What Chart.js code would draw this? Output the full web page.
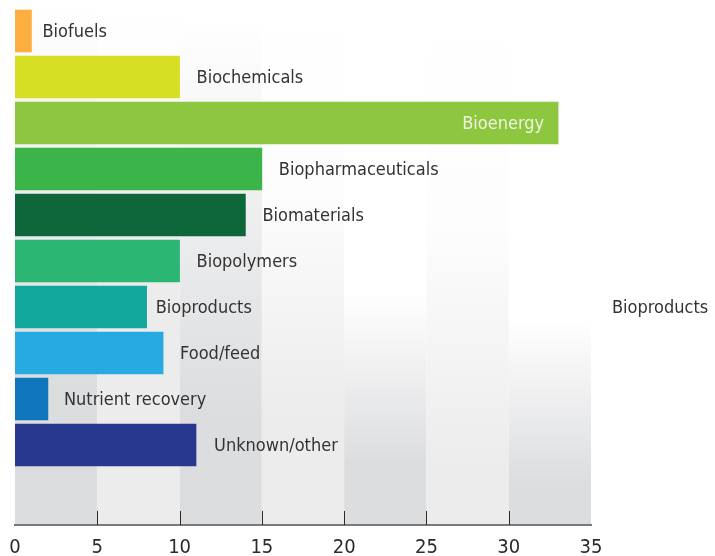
<!DOCTYPE html>
<html>
<head>
<meta charset="utf-8">
<title>Bio sectors</title>
<script src="https://cdn.jsdelivr.net/npm/chart.js@4/dist/chart.umd.min.js"></script>
<style>
  html, body { margin: 0; padding: 0; background: #ffffff; overflow: hidden; }
  canvas { display: block; }
</style>
</head>
<body>
<canvas id="grafico" width="715" height="571"></canvas>
<script>
// categorias y valores
const categorias = ["Biofuels", "Biochemicals", "Bioenergy", "Biopharmaceuticals", "Biomaterials",
  "Biopolymers", "Bioproducts", "Food/feed", "Nutrient recovery", "Unknown/other"];
const valores = [1, 10, 33, 15, 14, 10, 8, 9, 2, 11];
const colores = ["#fcaf40", "#d7df23", "#8dc63f", "#3bb54a", "#0e673a",
  "#2bb673", "#12a89d", "#27aae1", "#0f75bc", "#28388f"];
const ticksX = [0, 5, 10, 15, 20, 25, 30, 35];

const fuente = "'DejaVu Sans Condensed', 'DejaVu Sans', sans-serif";

// etiquetas dentro de la barra y pequeños ajustes de separacion
const dentro = ["Bioenergy"];
const separacion = { "Biofuels": 11, "Bioproducts": 9, "Nutrient recovery": 16, "Unknown/other": 18 };

// fondo con franjas verticales y degradado
const fondoPlugin = {
  id: 'fondo',
  beforeDraw(chart) {
    const ctx = chart.ctx;
    const area = chart.chartArea;
    const x = chart.scales.x;
    // inicio/fin del degradado por franja (fraccion de la altura)
    const inicio = [0.0, 0.12, 0.02, 0.35, 0.55, 0.42, 0.6];
    const fin = [0.72, 0.45, 0.78, 0.78, 0.88, 0.88, 0.92];
    ctx.save();
    for (let i = 0; i < ticksX.length - 1; i++) {
      const x0 = x.getPixelForValue(ticksX[i]);
      const x1 = x.getPixelForValue(ticksX[i + 1]);
      const h = area.bottom - area.top;
      const g = ctx.createLinearGradient(0, area.top, 0, area.bottom);
      const color = i % 2 === 0 ? '#dcdddf' : '#ececec';
      g.addColorStop(0, '#ffffff');
      g.addColorStop(inicio[i], i % 2 === 0 ? '#ffffff' : '#fdfdfd');
      g.addColorStop(fin[i], color);
      g.addColorStop(1, color);
      ctx.fillStyle = g;
      ctx.fillRect(x0, area.top, x1 - x0, h);
    }
    ctx.restore();
  },
  afterDraw(chart) {
    // marcas cortas hacia arriba sobre el eje
    const ctx = chart.ctx;
    const x = chart.scales.x;
    const abajo = chart.chartArea.bottom;
    ctx.save();
    ctx.strokeStyle = '#2b2b2b';
    ctx.lineWidth = 1;
    x.ticks.forEach((t, i) => {
      if (i === 0 || i === x.ticks.length - 1) return;
      const px = Math.round(x.getPixelForValue(t.value)) + 0.5;
      ctx.beginPath();
      ctx.moveTo(px, abajo - 14);
      ctx.lineTo(px, abajo);
      ctx.stroke();
    });
    ctx.restore();
  }
};

const etiquetasPlugin = {
  id: 'etiquetas',
  afterDatasetsDraw(chart) {
    const ctx = chart.ctx;
    const meta = chart.getDatasetMeta(0);
    ctx.save();
    ctx.font = '18px ' + fuente;
    ctx.textBaseline = 'middle';
    meta.data.forEach((bar, i) => {
      const nombre = categorias[i];
      if (dentro.includes(nombre)) {
        ctx.fillStyle = '#eef5de';
        ctx.textAlign = 'right';
        ctx.fillText(nombre, bar.x - 14, bar.y + 1);
      } else {
        ctx.fillStyle = '#333333';
        ctx.textAlign = 'left';
        const gap = separacion[nombre] !== undefined ? separacion[nombre] : 17;
        ctx.fillText(nombre, bar.x + gap, bar.y + 1);
      }
    });
    // etiqueta repetida a la derecha del grafico
    const fila = categorias.indexOf("Bioproducts");
    ctx.fillStyle = '#333333';
    ctx.textAlign = 'left';
    ctx.fillText("Bioproducts", chart.chartArea.right + 21, meta.data[fila].y + 1);
    ctx.restore();
  }
};

const ctx = document.getElementById('grafico').getContext('2d');
const chart = new Chart(ctx, {
  type: 'bar',
  data: {
    datasets: [{
      data: valores.map((v, i) => ({ x: v, y: i })),
      backgroundColor: colores,
      borderWidth: 0,
      barThickness: 42
    }]
  },
  options: {
    indexAxis: 'y',
    responsive: false,
    animation: false,
    devicePixelRatio: 1,
    layout: { padding: { left: 15, right: 124, top: 8, bottom: 0 } },
    plugins: {
      legend: { display: false },
      tooltip: { enabled: false }
    },
    scales: {
      x: {
        type: 'linear',
        min: 0,
        max: 35,
        grid: { display: false, drawTicks: false },
        border: { display: true, color: '#7a7a7a', width: 2 },
        ticks: {
          stepSize: 5,
          padding: 5,
          color: '#2b2b2b',
          font: { family: fuente, size: 20, lineHeight: 1.8 }
        }
      },
      y: {
        type: 'linear',
        reverse: true,
        min: -0.5,
        max: 10.74,
        offset: false,
        grid: { offset: false },
        display: false
      }
    }
  },
  plugins: [fondoPlugin, etiquetasPlugin]
});
</script>
</body>
</html>
